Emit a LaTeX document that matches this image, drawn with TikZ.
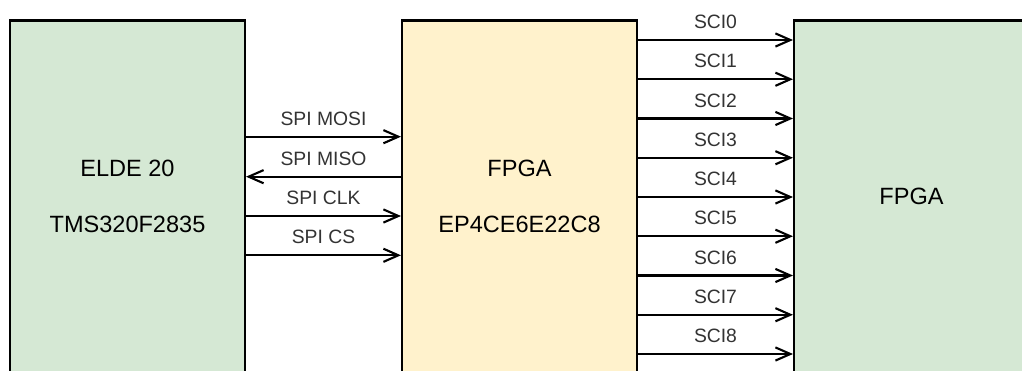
\documentclass[tikz,border=0pt]{standalone}
\usepackage{fontspec}
\setmainfont{Liberation Sans}
\usetikzlibrary{arrows.meta}
\definecolor{dspgreen}{HTML}{D5E8D4}
\definecolor{fpgayellow}{HTML}{FFF2CC}

\begin{document}
\begin{tikzpicture}[x=0.02cm, y=-0.02cm, >={Straight Barb[length=8.5pt,width=7.5pt]},
    every node/.style={font=\fontsize{11}{13}\selectfont, text=black!80},
    chip/.style={draw, line width=1.2pt, minimum width=4.7cm, minimum height=7.04cm,
        align=center, text=black, font=\fontsize{13.4}{32.3}\selectfont},
    wire/.style={->, line width=1.2pt},
    lbl/.style={midway, yshift=0.36cm}]
    \useasboundingbox (0,0) rectangle (1022,371);
    \clip (0,0) rectangle (1022,371);

    \node[chip, fill=dspgreen] (dsp) at (127.5,196.5) {ELDE 20\\TMS320F2835};
    \node[chip, fill=fpgayellow] (fpga) at (519.5,196.5) {FPGA\\EP4CE6E22C8};
    \node[chip, fill=dspgreen] (ext) at (911.5,196.5) {FPGA};

    \draw[wire] (dsp.east |- 0,136.7) -- node[lbl] {SPI MOSI} (fpga.west |- 0,136.7);
    \draw[wire] (fpga.west |- 0,176.7) -- node[lbl] {SPI MISO} (dsp.east |- 0,176.7);
    \draw[wire] (dsp.east |- 0,216) -- node[lbl] {SPI CLK} (fpga.west |- 0,216);
    \draw[wire] (dsp.east |- 0,255.3) -- node[lbl] {SPI CS} (fpga.west |- 0,255.3);

    \foreach \i [evaluate=\i as \y using 40+39.25*\i] in {0,...,8}
        \draw[wire] (fpga.east |- 0,\y) -- node[lbl] {SCI\i} (ext.west |- 0,\y);
\end{tikzpicture}
\end{document}
